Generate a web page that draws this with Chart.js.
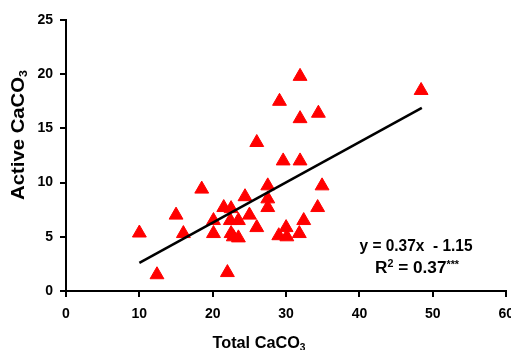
<!DOCTYPE html>
<html>
<head>
<meta charset="utf-8">
<script src="https://cdn.jsdelivr.net/npm/chart.js@4.4.0/dist/chart.umd.min.js"></script>
<style>
  html, body { margin: 0; padding: 0; background: #fff; overflow: hidden; }
  #wrap { width: 511px; height: 350px; overflow: hidden; }
</style>
</head>
<body>
<div id="wrap"><canvas id="chart" width="523" height="350"></canvas></div>
<script>
// Total vs active CaCO3
const totalCaCO3 = [10.0, 12.4, 15.0, 16.0, 18.5, 20.1, 20.1, 21.5, 22.0, 22.5, 22.4, 23.5,
                    22.5, 22.8, 23.5, 24.4, 25.0, 26.0, 26.0, 27.5, 27.5, 27.5, 29.1, 29.6,
                    29.0, 30.0, 30.1, 31.9, 31.9, 31.9, 31.8, 32.4, 34.4, 34.3, 34.9, 48.4];
const activeCaCO3 = [5.35, 1.5, 7.0, 5.3, 9.4, 6.5, 5.3, 7.7, 1.7, 7.6, 6.5, 6.5,
                     5.3, 5.0, 4.9, 8.7, 7.0, 5.85, 13.7, 9.7, 8.5, 7.7, 17.5, 12.0,
                     5.1, 5.85, 5.0, 19.8, 15.9, 12.0, 5.3, 6.5, 16.4, 7.7, 9.7, 18.5];

// regression line ends
const fitX = [10, 48.5];
const fitY = [2.6, 16.9];

const xTicks = [0, 10, 20, 30, 40, 50, 60];
const yTicks = [0, 5, 10, 15, 20, 25];

const FONT = '"Liberation Sans", Arial, sans-serif';

// draw a run of text pieces (for sub/superscripts), squeezed to fitW if given
function richText(ctx, parts, x, y, fitW) {
  let w = 0;
  const widths = parts.map(p => {
    ctx.font = 'bold ' + p[1] + 'px ' + FONT;
    const m = ctx.measureText(p[0]).width;
    w += m;
    return m;
  });
  const sx = fitW ? fitW / w : 1;
  ctx.save();
  ctx.translate(x, y);
  ctx.scale(sx, 1);
  ctx.fillStyle = '#000';
  ctx.textAlign = 'left';
  ctx.textBaseline = 'alphabetic';
  let cx = -w / 2;
  parts.forEach((p, i) => {
    ctx.font = 'bold ' + p[1] + 'px ' + FONT;
    ctx.fillText(p[0], cx, p[2]);
    cx += widths[i];
  });
  ctx.restore();
}

const labelsPlugin = {
  id: 'labels',
  afterDraw(chart) {
    const ctx = chart.ctx;
    // x title
    richText(ctx, [['Total CaCO', 16, 0], ['3', 10, 3]], 259, 348, 93);
    // y title
    ctx.save();
    ctx.translate(24, 135);
    ctx.rotate(-Math.PI / 2);
    richText(ctx, [['Active CaCO', 18, 0], ['3', 11, 3]], 0, 0, 130);
    ctx.restore();
    // equation
    richText(ctx, [['y = 0.37x  - 1.15', 16, 0]], 416, 251, 113);
    richText(ctx, [['R', 16, 0], ['2', 10, -6], [' = 0.37', 16, 0], ['***', 10, -5]], 417, 273, 84);
  }
};

const axisGrid = {
  drawOnChartArea: false,
  drawTicks: true,
  tickLength: 6,
  tickWidth: 2,
  color: '#000',
  lineWidth: 2
};

new Chart(document.getElementById('chart'), {
  type: 'scatter',
  data: {
    datasets: [
      {
        label: 'fit',
        data: fitX.map((x, i) => ({ x: x, y: fitY[i] })),
        showLine: true,
        borderColor: '#000',
        borderWidth: 2.5,
        pointRadius: 0
      },
      {
        label: 'samples',
        data: totalCaCO3.map((x, i) => ({ x: x, y: activeCaCO3[i] })),
        pointStyle: 'triangle',
        pointRadius: 8,
        backgroundColor: '#ff0000',
        borderColor: '#ff0000',
        borderWidth: 1
      }
    ]
  },
  options: {
    responsive: false,
    animation: false,
    layout: { padding: { left: 0, right: 0, top: 20, bottom: 0 } },
    plugins: { legend: { display: false }, tooltip: { enabled: false } },
    scales: {
      x: {
        type: 'linear',
        min: 0,
        max: 60,
        afterBuildTicks: s => { s.ticks = xTicks.map(v => ({ value: v })); },
        ticks: { color: '#000', padding: 9, maxRotation: 0, font: { family: FONT, size: 14, weight: 'bold' } },
        grid: axisGrid,
        border: { color: '#000', width: 2 },
        afterFit: s => { s.height = 59; }
      },
      y: {
        min: 0,
        max: 25,
        afterBuildTicks: s => { s.ticks = yTicks.map(v => ({ value: v })); },
        ticks: { color: '#000', padding: 7, font: { family: FONT, size: 14, weight: 'bold' } },
        grid: axisGrid,
        border: { color: '#000', width: 2 },
        afterFit: s => { s.width = 66; }
      }
    }
  },
  plugins: [labelsPlugin]
});
</script>
</body>
</html>
